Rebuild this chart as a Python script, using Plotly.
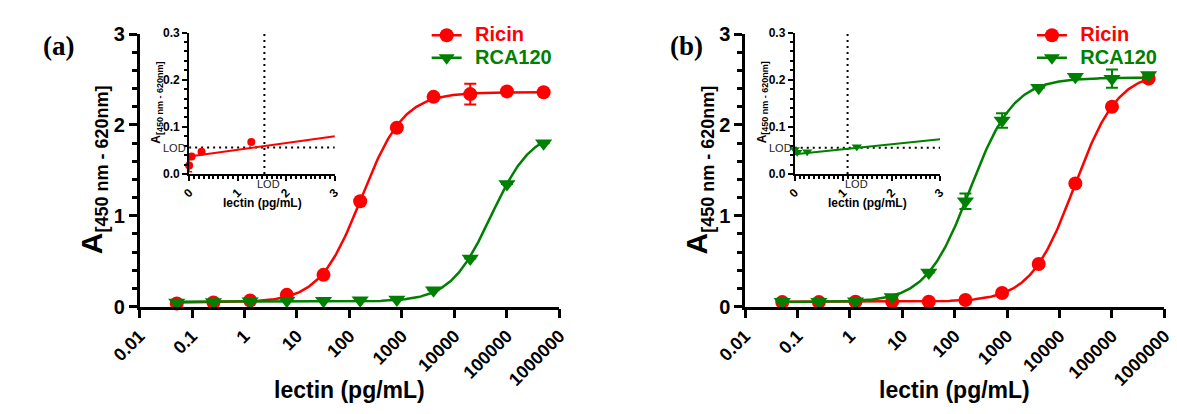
import numpy as np
import plotly.graph_objects as go

# ---------------- data ----------------
conc = [0.0512, 0.256, 1.28, 6.4, 32, 160, 800, 4000, 20000, 100000, 500000]

a_ricin = [0.035, 0.045, 0.068, 0.13, 0.35, 1.16, 1.97, 2.31, 2.34, 2.37, 2.36]
a_ricin_err = [0, 0, 0, 0, 0, 0, 0, 0, 0.115, 0, 0]
a_rca = [0.045, 0.05, 0.06, 0.065, 0.065, 0.07, 0.08, 0.18, 0.53, 1.35, 1.80]
a_rca_err = [0, 0, 0, 0, 0, 0, 0, 0, 0, 0, 0]

b_ricin = [0.05, 0.05, 0.055, 0.055, 0.055, 0.073, 0.15, 0.47, 1.355, 2.20, 2.51]
b_ricin_err = [0, 0, 0, 0, 0, 0, 0, 0, 0, 0, 0]
b_rca = [0.055, 0.055, 0.06, 0.105, 0.375, 1.16, 2.05, 2.41, 2.53, 2.51, 2.55]
b_rca_err = [0, 0, 0, 0, 0, 0.085, 0.08, 0, 0, 0.1, 0]

# 4PL fit parameters [bottom, top, EC50, Hill] estimated from the curves
a_ricin_fit = [0.045, 2.36, 170, 1.08]
a_rca_fit = [0.055, 1.95, 50100, 1.12]
b_ricin_fit = [0.055, 2.59, 19100, 1.04]
b_rca_fit = [0.05, 2.52, 194, 1.04]

# insets (linear low range)
inset_conc = [0, 0.0512, 0.256, 1.28]
a_inset_ricin = [0.018, 0.037, 0.047, 0.068]
a_inset_ricin_err = [0.013, 0, 0, 0]
b_inset_rca = [0.052, 0.046, 0.047, 0.058]
b_inset_rca_err = [0, 0, 0, 0]
inset_fit_x = [0, 3]
a_inset_fit_y = [0.037, 0.080]
b_inset_fit_y = [0.042, 0.0737]
a_lod_y = 0.056
a_lod_x = 1.55
b_lod_y = 0.0556
b_lod_x = 1.09

xtick_vals = [0.01, 0.1, 1, 10, 100, 1000, 10000, 100000, 1000000]
xtick_text = ["0.01", "0.1", "1", "10", "100", "1000", "10000", "100000", "1000000"]

RED = "#ff0000"
GREEN = "#008000"
W, H = 1177, 414
OFF = 8  # default page body margin
FONT = "Liberation Sans, Arial, sans-serif"


def px(p):
    return (p - OFF) / W


def py(p):
    return 1 - (p - OFF) / H


def four_pl(x, p):
    bottom, top, ec50, hill = p
    return bottom + (top - bottom) / (1 + (ec50 / x) ** hill)


fig = go.Figure()

curve_x = np.logspace(np.log10(conc[0]), np.log10(conc[-1]), 300)


def add_main(xa, ya, ric, ric_err, ric_fit, rca, rca_err, rca_fit, legend):
    fig.add_trace(go.Scatter(x=curve_x, y=four_pl(curve_x, ric_fit), mode="lines",
                             line=dict(color=RED, width=2.5), xaxis=xa, yaxis=ya,
                             showlegend=False, hoverinfo="skip"))
    fig.add_trace(go.Scatter(x=conc, y=ric, mode="markers",
                             marker=dict(symbol="circle", size=14, color=RED),
                             error_y=dict(type="data", array=ric_err, color=RED,
                                          thickness=2, width=6),
                             xaxis=xa, yaxis=ya, showlegend=False, cliponaxis=False))
    fig.add_trace(go.Scatter(x=curve_x, y=four_pl(curve_x, rca_fit), mode="lines",
                             line=dict(color=GREEN, width=2.5), xaxis=xa, yaxis=ya,
                             showlegend=False, hoverinfo="skip"))
    fig.add_trace(go.Scatter(x=conc, y=rca, mode="markers",
                             marker=dict(symbol="triangle-down", size=15, color=GREEN),
                             error_y=dict(type="data", array=rca_err, color=GREEN,
                                          thickness=2, width=6),
                             xaxis=xa, yaxis=ya, showlegend=False, cliponaxis=False))
    # legend-only entries
    for label, color, sym in [("Ricin", RED, "circle"), ("RCA120", GREEN, "triangle-down")]:
        fig.add_trace(go.Scatter(
            x=[None], y=[None], mode="lines+markers",
            name="\u00a0\u00a0<span style='color:%s;font-size:20px'>%s</span>" % (color, label),
            line=dict(color=color, width=2.5),
            marker=dict(symbol=sym, size=14, color=color),
            xaxis=xa, yaxis=ya, showlegend=True, legend=legend))


add_main("x", "y", a_ricin, a_ricin_err, a_ricin_fit, a_rca, a_rca_err, a_rca_fit, "legend")
add_main("x2", "y2", b_ricin, b_ricin_err, b_ricin_fit, b_rca, b_rca_err, b_rca_fit, "legend2")


def add_inset(xa, ya, yvals, yerr, fit_y, color, sym, msize, lod_x, lod_y):
    fig.add_trace(go.Scatter(x=[inset_fit_x[0], inset_fit_x[-1]], y=[lod_y, lod_y], mode="lines",
                             line=dict(color="black", width=2, dash="2px,4px"),
                             xaxis=xa, yaxis=ya, showlegend=False, hoverinfo="skip"))
    fig.add_trace(go.Scatter(x=[lod_x, lod_x], y=[0, 0.3], mode="lines",
                             line=dict(color="black", width=2, dash="2px,4px"),
                             xaxis=xa, yaxis=ya, showlegend=False, hoverinfo="skip"))
    fig.add_trace(go.Scatter(x=inset_fit_x, y=fit_y, mode="lines",
                             line=dict(color=color, width=2), xaxis=xa, yaxis=ya,
                             showlegend=False, hoverinfo="skip"))
    fig.add_trace(go.Scatter(x=inset_conc, y=yvals, mode="markers",
                             marker=dict(symbol=sym, size=msize, color=color),
                             error_y=dict(type="data", array=yerr, color=color,
                                          thickness=1.5, width=3),
                             xaxis=xa, yaxis=ya, showlegend=False, cliponaxis=False))


add_inset("x3", "y3", a_inset_ricin, a_inset_ricin_err, a_inset_fit_y, RED, "circle", 8,
          a_lod_x, a_lod_y)
add_inset("x4", "y4", b_inset_rca, b_inset_rca_err, b_inset_fit_y, GREEN, "triangle-down", 9,
          b_lod_x, b_lod_y)

# ---------------- axes ----------------
main_y_dom = [py(311.8), py(24)]
inset_y_dom = [py(171.7), py(22.3)]

main_x_common = dict(type="log", range=[-2, 6], tickvals=xtick_vals, ticktext=xtick_text,
                     tickangle=-45, ticks="outside", ticklen=9, tickwidth=2.5,
                     showline=True, linewidth=2.5, linecolor="black", showgrid=False,
                     zeroline=False, tickcolor="black",
                     tickfont=dict(size=18, color="black", family=FONT, weight="bold"))
main_y_common = dict(range=[0, 3], tickvals=[0, 1, 2, 3], ticks="outside", ticklen=8,
                     tickwidth=2.5, showline=True, linewidth=2.5, linecolor="black",
                     showgrid=False, zeroline=False, tickcolor="black",
                     minor=dict(dtick=0.2, tick0=0, ticks="outside", ticklen=5,
                                tickwidth=2.5, tickcolor="black", showgrid=False),
                     tickfont=dict(size=20, color="black", family=FONT, weight="bold"))
inset_x_common = dict(range=[0, 3], tickvals=[0, 1, 2, 3], tickangle=-45, ticks="outside",
                      ticklen=5, tickwidth=2, showline=True, linewidth=2, linecolor="black",
                      showgrid=False, zeroline=False, tickcolor="black",
                      minor=dict(dtick=0.1, tick0=0, ticks="outside", ticklen=3,
                                 tickwidth=1.5, tickcolor="black", showgrid=False),
                      tickfont=dict(size=12, color="black", family=FONT, weight="bold"))
inset_y_common = dict(range=[0, 0.3], tickvals=[0, 0.1, 0.2, 0.3], tickformat=".1f",
                      ticks="outside", ticklen=5, tickwidth=2, showline=True, linewidth=2,
                      linecolor="black", showgrid=False, zeroline=False, tickcolor="black",
                      minor=dict(dtick=0.02, tick0=0, ticks="outside", ticklen=3,
                                 tickwidth=1.5, tickcolor="black", showgrid=False),
                      tickfont=dict(size=12, color="black", family=FONT, weight="bold"))

fig.update_layout(
    xaxis=dict(domain=[px(113), px(547.3)], anchor="y", **main_x_common),
    yaxis=dict(domain=main_y_dom, anchor="x", **main_y_common),
    xaxis2=dict(domain=[px(739.3), px(1173)], anchor="y2", **main_x_common),
    yaxis2=dict(domain=main_y_dom, anchor="x2", **main_y_common),
    xaxis3=dict(domain=[px(164.3), px(315)], anchor="y3", **inset_x_common),
    yaxis3=dict(domain=inset_y_dom, anchor="x3", **inset_y_common),
    xaxis4=dict(domain=[px(790.7), px(941)], anchor="y4", **inset_x_common),
    yaxis4=dict(domain=inset_y_dom, anchor="x4", **inset_y_common),
)

legend_common = dict(xanchor="left", yanchor="top", bgcolor="rgba(0,0,0,0)",
                     borderwidth=0, itemsizing="trace", tracegroupgap=0,
                     font=dict(size=15, family=FONT, weight="bold", color="black"))
fig.update_layout(
    legend=dict(x=px(410), y=py(8), **legend_common),
    legend2=dict(x=px(1036), y=py(8), **legend_common),
)

# ---------------- text ----------------
ann = []
main_ytitle = ("A<sub><span style='font-size:18px'>[450 nm - 620nm]</span></sub>")
inset_ytitle = ("A<sub><span style='font-size:9px'>[450 nm - 620nm]</span></sub>")
for xc in (65, 691):
    ann.append(dict(text=main_ytitle, x=px(xc), y=py(167.5), xref="paper", yref="paper",
                    showarrow=False, textangle=-90, xanchor="center", yanchor="middle",
                    font=dict(size=30, family=FONT, weight="bold", color="black")))
for xc in (330, 956):
    ann.append(dict(text="lectin (pg/mL)", x=px(xc), y=py(400), xref="paper", yref="paper",
                    showarrow=False, xanchor="center", yanchor="middle",
                    font=dict(size=23, family=FONT, weight="bold", color="black")))
for xc in (131, 757.4):
    ann.append(dict(text=inset_ytitle, x=px(xc), y=py(96.5), xref="paper", yref="paper",
                    showarrow=False, textangle=-90, xanchor="center", yanchor="middle",
                    font=dict(size=12, family=FONT, weight="bold", color="black")))
for xc in (239.7, 865.9):
    ann.append(dict(text="lectin (pg/mL)", x=px(xc), y=py(202.3), xref="paper", yref="paper",
                    showarrow=False, xanchor="center", yanchor="middle",
                    font=dict(size=12, family=FONT, weight="bold", color="black")))
# LOD labels
for xa, ya, lx, ly, sh in (("x3", "y3", a_lod_x, a_lod_y, 4), ("x4", "y4", b_lod_x, b_lod_y, 9)):
    ann.append(dict(text="LOD", x=0, y=ly, xref=xa, yref=ya, showarrow=False,
                    xanchor="right", yanchor="middle", xshift=-1,
                    font=dict(size=11, family=FONT, color="#222")))
    ann.append(dict(text="LOD", x=lx, y=0, xref=xa, yref=ya, showarrow=False,
                    xanchor="center", yanchor="middle", xshift=sh, yshift=-10,
                    font=dict(size=11, family=FONT, color="#222")))
# panel labels
for lbl, xc in (("(a)", 29.5), ("(b)", 679)):
    ann.append(dict(text=lbl, x=px(xc), y=py(37), xref="paper", yref="paper",
                    showarrow=False, xanchor="center", yanchor="middle",
                    font=dict(size=27, family="Liberation Serif, Times New Roman, serif",
                              weight="bold", color="black")))

fig.update_layout(
    annotations=ann,
    width=W, height=H,
    margin=dict(l=0, r=0, t=0, b=0),
    paper_bgcolor="white", plot_bgcolor="white",
    font=dict(family=FONT, color="black"),
)

fig.write_html("out.html")
